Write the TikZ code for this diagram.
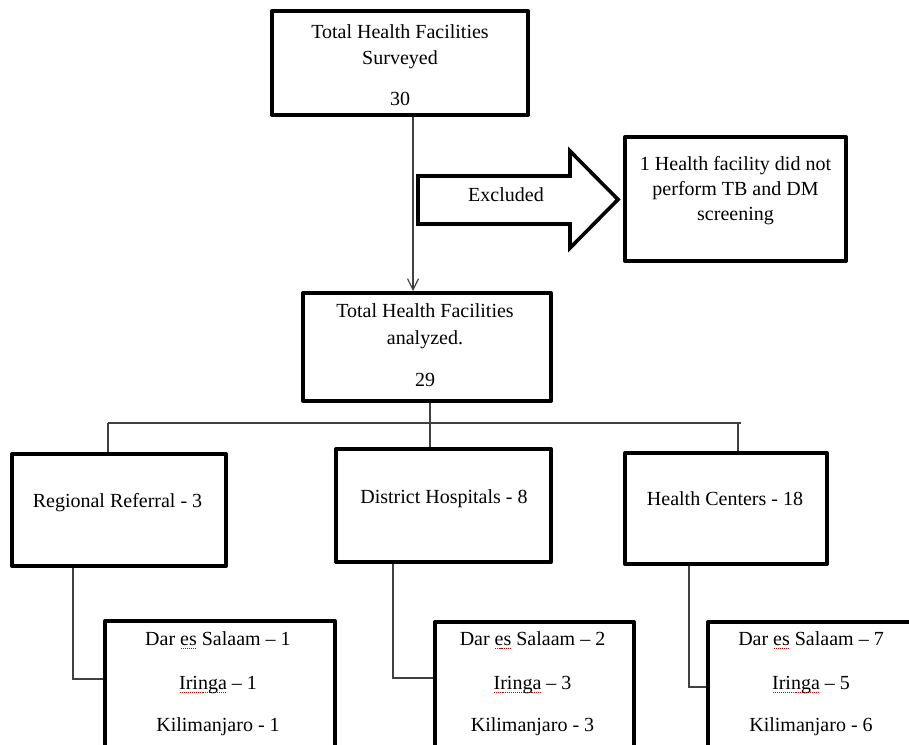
\documentclass[tikz,border=0pt]{standalone}
\usepackage{fontspec}
\setmainfont{Liberation Serif}
\usetikzlibrary{arrows.meta}
\newcommand\spellmark[1]{\setbox0=\hbox{#1}\rlap{\raisebox{-3.5pt}{\color{red!85!black}\hbox to \wd0{\xleaders\hbox to 2pt{\hss\rule{1.1pt}{0.6pt}\hss}\hfill}}}\box0\relax}
\begin{document}
\begin{tikzpicture}[x=1pt,y=-1pt,
  box/.style={draw=black, line width=4pt, rectangle, inner sep=0pt, fill=white, line join=round},
  conn/.style={draw=black!75, line width=1.3pt},
  txt/.style={anchor=base, inner sep=0pt, font=\fontsize{20}{24}\selectfont}]
\useasboundingbox (0,0) rectangle (909,744);
\clip (0,0) rectangle (909,744);
\fill[white] (0,0) rectangle (909,744);

% boxes
\node[box, minimum width=256, minimum height=104] (top) at (400,63) {};
\node[box, minimum width=221, minimum height=124] (excl) at (735.5,199) {};
\node[box, minimum width=248, minimum height=108] (mid) at (427,347) {};
\node[box, minimum width=214, minimum height=112] (reg) at (119,510) {};
\node[box, minimum width=215, minimum height=113] (dis) at (443.5,505.5) {};
\node[box, minimum width=202, minimum height=111] (hc) at (726,508.5) {};
\node[box, minimum width=230, minimum height=150, anchor=north west] (regb) at (103,619) {};
\node[box, minimum width=199, minimum height=150, anchor=north west] (disb) at (433,620) {};
\node[box, minimum width=210, minimum height=150, anchor=north west] (hcb) at (706,620) {};

% block arrow
\draw[line width=3.6pt, line join=miter, fill=white] (418,176) -- (570,176) -- (570,151) -- (618,199.5) -- (570,248) -- (570,224) -- (418,224) -- cycle;
\node[txt] (exl) at (506,201) {Excluded};

% connectors
\draw[conn, -{Straight Barb[length=11pt,width=11pt,line width=1.2pt]}] ([xshift=13pt]top.south) -- ([xshift=-14pt]mid.north);
\coordinate (hl) at (108,423);
\coordinate (hr) at (741,423);
\draw[conn] (hl) -- (hr);
\draw[conn] (hl) -- (reg.north -| hl);
\draw[conn] ([xshift=3pt]mid.south) -- ([xshift=-13.5pt]dis.north);
\draw[conn] (738,423) -- ([xshift=12pt]hc.north);
\draw[conn] ([xshift=-46pt]reg.south) |- ([yshift=-60pt]regb.north west);
\draw[conn] ([xshift=-50.5pt]dis.south) |- ([yshift=-58pt]disb.north west);
\draw[conn] ([xshift=-37pt]hc.south) |- ([yshift=-67pt]hcb.north west);

% texts
\node[txt] (t1) at (400,38) {Total Health Facilities};
\node[txt] (t2) at (400,64) {Surveyed};
\node[txt] (t3) at (400,105.5) {30};

\node[txt] (e1) at (735.5,170) {1 Health facility did not};
\node[txt] (e2) at (735.5,195) {perform TB and DM};
\node[txt] (e3) at (735.5,220) {screening};

\node[txt] (m1) at (425,317) {Total Health Facilities};
\node[txt] (m2) at (425,344) {analyzed.};
\node[txt] (m3) at (425,386.5) {29};

\node[txt] (r1) at (117.5,507) {Regional Referral - 3};
\node[txt] (d1) at (444,503) {District Hospitals - 8};
\node[txt] (h1) at (725,505) {Health Centers - 18};

\node[txt] (rb1) at (218,645) {Dar \spellmark{es} Salaam – 1};
\node[txt] (rb2) at (218,689) {\spellmark{Iringa} – 1};
\node[txt] (rb3) at (218,731) {Kilimanjaro - 1};

\node[txt] (db1) at (532.5,645) {Dar \spellmark{es} Salaam – 2};
\node[txt] (db2) at (532.5,689) {\spellmark{Iringa} – 3};
\node[txt] (db3) at (532.5,731) {Kilimanjaro - 3};

\node[txt] (hb1) at (811,645) {Dar \spellmark{es} Salaam – 7};
\node[txt] (hb2) at (811,689) {\spellmark{Iringa} – 5};
\node[txt] (hb3) at (811,731) {Kilimanjaro - 6};
\end{tikzpicture}
\end{document}
